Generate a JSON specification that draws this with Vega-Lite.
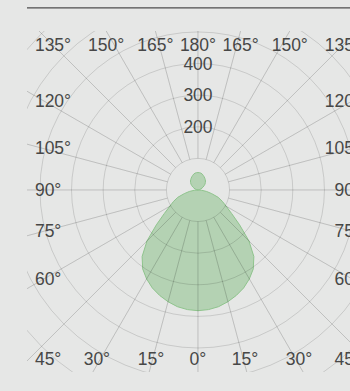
{
  "$schema": "https://vega.github.io/schema/vega-lite/v6.json",
  "width": 323,
  "height": 341,
  "padding": {"left": 27, "top": 31, "right": 0, "bottom": 19},
  "autosize": {"type": "none"},
  "background": "#e6e7e6",
  "config": {"view": {"stroke": null}, "text": {"font": "Liberation Sans", "fontSize": 17.5, "color": "#474747", "baseline": "middle", "dy": 1}},
  "datasets": {
    "shape": [
      {"t":0,"r":382},{"t":5,"r":380},{"t":10,"r":375},{"t":15,"r":366},{"t":20,"r":355},{"t":25,"r":342},{"t":30,"r":325},{"t":35,"r":305},{"t":40,"r":275},{"t":45,"r":228},{"t":50,"r":172},{"t":55,"r":130},{"t":60,"r":103},{"t":65,"r":85},{"t":70,"r":68},{"t":75,"r":45},{"t":80,"r":28},{"t":85,"r":12},{"t":90,"r":0},
      {"t":95,"r":1},{"t":100,"r":3},{"t":105,"r":6},{"t":110,"r":10},{"t":115,"r":14},{"t":120,"r":19},{"t":125,"r":24},{"t":130,"r":29},{"t":135,"r":33},{"t":140,"r":37},{"t":145,"r":40},{"t":150,"r":43},{"t":155,"r":46},{"t":160,"r":49},{"t":165,"r":52},{"t":170,"r":54},{"t":175,"r":55},{"t":180,"r":55},
      {"t":185,"r":55},{"t":190,"r":54},{"t":195,"r":52},{"t":200,"r":49},{"t":205,"r":46},{"t":210,"r":43},{"t":215,"r":40},{"t":220,"r":37},{"t":225,"r":33},{"t":230,"r":29},{"t":235,"r":24},{"t":240,"r":19},{"t":245,"r":14},{"t":250,"r":10},{"t":255,"r":6},{"t":260,"r":3},{"t":265,"r":1},
      {"t":270,"r":0},{"t":275,"r":12},{"t":280,"r":28},{"t":285,"r":45},{"t":290,"r":68},{"t":295,"r":85},{"t":300,"r":103},{"t":305,"r":130},{"t":310,"r":172},{"t":315,"r":228},{"t":320,"r":275},{"t":325,"r":305},{"t":330,"r":325},{"t":335,"r":342},{"t":340,"r":355},{"t":345,"r":366},{"t":350,"r":375},{"t":355,"r":380}
    ],
    "rings": [{"r":100},{"r":200},{"r":300},{"r":400},{"r":500},{"r":600},{"r":700},{"r":800}],
    "spokes": [{"t":0},{"t":15},{"t":30},{"t":45},{"t":60},{"t":75},{"t":90},{"t":105},{"t":120},{"t":135},{"t":150},{"t":165},{"t":180},{"t":195},{"t":210},{"t":225},{"t":240},{"t":255},{"t":270},{"t":285},{"t":300},{"t":315},{"t":330},{"t":345}],
    "ringlabels": [{"v":200},{"v":300},{"v":400}],
    "alabels": [
      {"lab":"135°","a":135,"s":-1},{"lab":"150°","a":150,"s":-1},{"lab":"165°","a":165,"s":-1},{"lab":"180°","a":180,"s":0},{"lab":"165°","a":165,"s":1},{"lab":"150°","a":150,"s":1},{"lab":"135°","a":135,"s":1},
      {"lab":"120°","a":120,"s":-1},{"lab":"105°","a":105,"s":-1},{"lab":"90°","a":90,"s":-1},{"lab":"75°","a":75,"s":-1},{"lab":"60°","a":60,"s":-1},
      {"lab":"120°","a":120,"s":1},{"lab":"105°","a":105,"s":1},{"lab":"90°","a":90,"s":1},{"lab":"75°","a":75,"s":1},{"lab":"60°","a":60,"s":1},
      {"lab":"45°","a":45,"s":-1},{"lab":"30°","a":30,"s":-1},{"lab":"15°","a":15,"s":-1},{"lab":"0°","a":0,"s":0},{"lab":"15°","a":15,"s":1},{"lab":"30°","a":30,"s":1},{"lab":"45°","a":45,"s":1}
    ]
  },
  "layer": [
    {
      "data": {"name": "shape"},
      "transform": [
        {"calculate": "-datum.r*sin(datum.t*PI/180)", "as": "x"},
        {"calculate": "-datum.r*cos(datum.t*PI/180)", "as": "y"}
      ],
      "mark": {"type": "line", "interpolate": "linear-closed", "filled": true, "color": "#b4d2b3", "stroke": "#8fc48d", "strokeWidth": 1, "clip": true},
      "encoding": {
        "x": {"field": "x", "type": "quantitative", "scale": {"domain": [-541, 481], "nice": false, "zero": false}, "axis": null},
        "y": {"field": "y", "type": "quantitative", "scale": {"domain": [-576, 503], "nice": false, "zero": false}, "axis": null},
        "order": {"field": "t", "type": "quantitative"}
      }
    },
    {
      "data": {"name": "rings"},
      "mark": {"type": "arc", "filled": false, "stroke": "#000000", "strokeOpacity": 0.13, "strokeWidth": 1, "theta": 0, "theta2": 6.2832, "clip": true},
      "encoding": {
        "x": {"datum": 0, "type": "quantitative", "scale": {"domain": [-541, 481], "nice": false, "zero": false}, "axis": null},
        "y": {"datum": 0, "type": "quantitative", "scale": {"domain": [-576, 503], "nice": false, "zero": false}, "axis": null},
        "radius": {"field": "r", "type": "quantitative", "stack": null, "scale": {"type": "linear", "domain": [0, 1022], "range": [0, 323], "zero": true, "nice": false}}
      }
    },
    {
      "data": {"name": "spokes"},
      "mark": {"type": "arc", "filled": false, "stroke": "#000000", "strokeOpacity": 0.09, "strokeWidth": 1, "clip": true},
      "encoding": {
        "x": {"datum": 0, "type": "quantitative", "scale": {"domain": [-541, 481], "nice": false, "zero": false}, "axis": null},
        "y": {"datum": 0, "type": "quantitative", "scale": {"domain": [-576, 503], "nice": false, "zero": false}, "axis": null},
        "theta": {"field": "t", "type": "quantitative", "stack": null, "scale": {"type": "linear", "domain": [0, 360], "range": [0, 6.283185307179586], "zero": true, "nice": false}},
        "theta2": {"field": "t"},
        "radius": {"datum": 1100, "type": "quantitative", "stack": null, "scale": {"type": "linear", "domain": [0, 1022], "range": [0, 323], "zero": true, "nice": false}},
        "radius2": {"datum": 100}
      }
    },
    {
      "data": {"values": [{}]},
      "mark": {"type": "rule", "color": "#4d4d4d", "strokeWidth": 1.3},
      "encoding": {
        "x": {"datum": -541, "type": "quantitative", "scale": {"domain": [-541, 481], "nice": false, "zero": false}, "axis": null},
        "x2": {"datum": 481},
        "y": {"datum": 576, "type": "quantitative", "scale": {"domain": [-576, 503], "nice": false, "zero": false}, "axis": null}
      }
    },
    {
      "data": {"name": "ringlabels"},
      "mark": {"type": "text", "align": "center"},
      "encoding": {
        "x": {"datum": 0, "type": "quantitative", "scale": {"domain": [-541, 481], "nice": false, "zero": false}, "axis": null},
        "y": {"field": "v", "type": "quantitative", "scale": {"domain": [-576, 503], "nice": false, "zero": false}, "axis": null},
        "text": {"field": "v", "type": "nominal"}
      }
    },
    {
      "data": {"name": "alabels"},
      "transform": [
        {"filter": "datum.s == -1 && datum.a >= 45 && datum.a <= 135"},
        {"calculate": "datum.a == 135 ? 458 : datum.a == 45 ? -536 : -490*cos(datum.a*PI/180)/sin(datum.a*PI/180)", "as": "ly"}
      ],
      "mark": {"type": "text", "align": "left"},
      "encoding": {
        "x": {"datum": -516, "type": "quantitative", "scale": {"domain": [-541, 481], "nice": false, "zero": false}, "axis": null},
        "y": {"field": "ly", "type": "quantitative", "scale": {"domain": [-576, 503], "nice": false, "zero": false}, "axis": null},
        "text": {"field": "lab", "type": "nominal"}
      }
    },
    {
      "data": {"name": "alabels"},
      "transform": [
        {"filter": "datum.s == 1 && datum.a >= 45 && datum.a <= 135"},
        {"calculate": "datum.a == 135 ? 458 : datum.a == 45 ? -536 : -490*cos(datum.a*PI/180)/sin(datum.a*PI/180)", "as": "ly"}
      ],
      "mark": {"type": "text", "align": "right"},
      "encoding": {
        "x": {"datum": 516, "type": "quantitative", "scale": {"domain": [-541, 481], "nice": false, "zero": false}, "axis": null},
        "y": {"field": "ly", "type": "quantitative", "scale": {"domain": [-576, 503], "nice": false, "zero": false}, "axis": null},
        "text": {"field": "lab", "type": "nominal"}
      }
    },
    {
      "data": {"name": "alabels"},
      "transform": [
        {"filter": "datum.a > 135"},
        {"calculate": "datum.s*503*tan((180-datum.a)*PI/180)", "as": "lx"}
      ],
      "mark": {"type": "text", "align": "center"},
      "encoding": {
        "x": {"field": "lx", "type": "quantitative", "scale": {"domain": [-541, 481], "nice": false, "zero": false}, "axis": null},
        "y": {"datum": 458, "type": "quantitative", "scale": {"domain": [-576, 503], "nice": false, "zero": false}, "axis": null},
        "text": {"field": "lab", "type": "nominal"}
      }
    },
    {
      "data": {"name": "alabels"},
      "transform": [
        {"filter": "datum.a < 45"},
        {"calculate": "datum.s*554*tan(datum.a*PI/180)", "as": "lx"}
      ],
      "mark": {"type": "text", "align": "center"},
      "encoding": {
        "x": {"field": "lx", "type": "quantitative", "scale": {"domain": [-541, 481], "nice": false, "zero": false}, "axis": null},
        "y": {"datum": -536, "type": "quantitative", "scale": {"domain": [-576, 503], "nice": false, "zero": false}, "axis": null},
        "text": {"field": "lab", "type": "nominal"}
      }
    }
  ]
}
